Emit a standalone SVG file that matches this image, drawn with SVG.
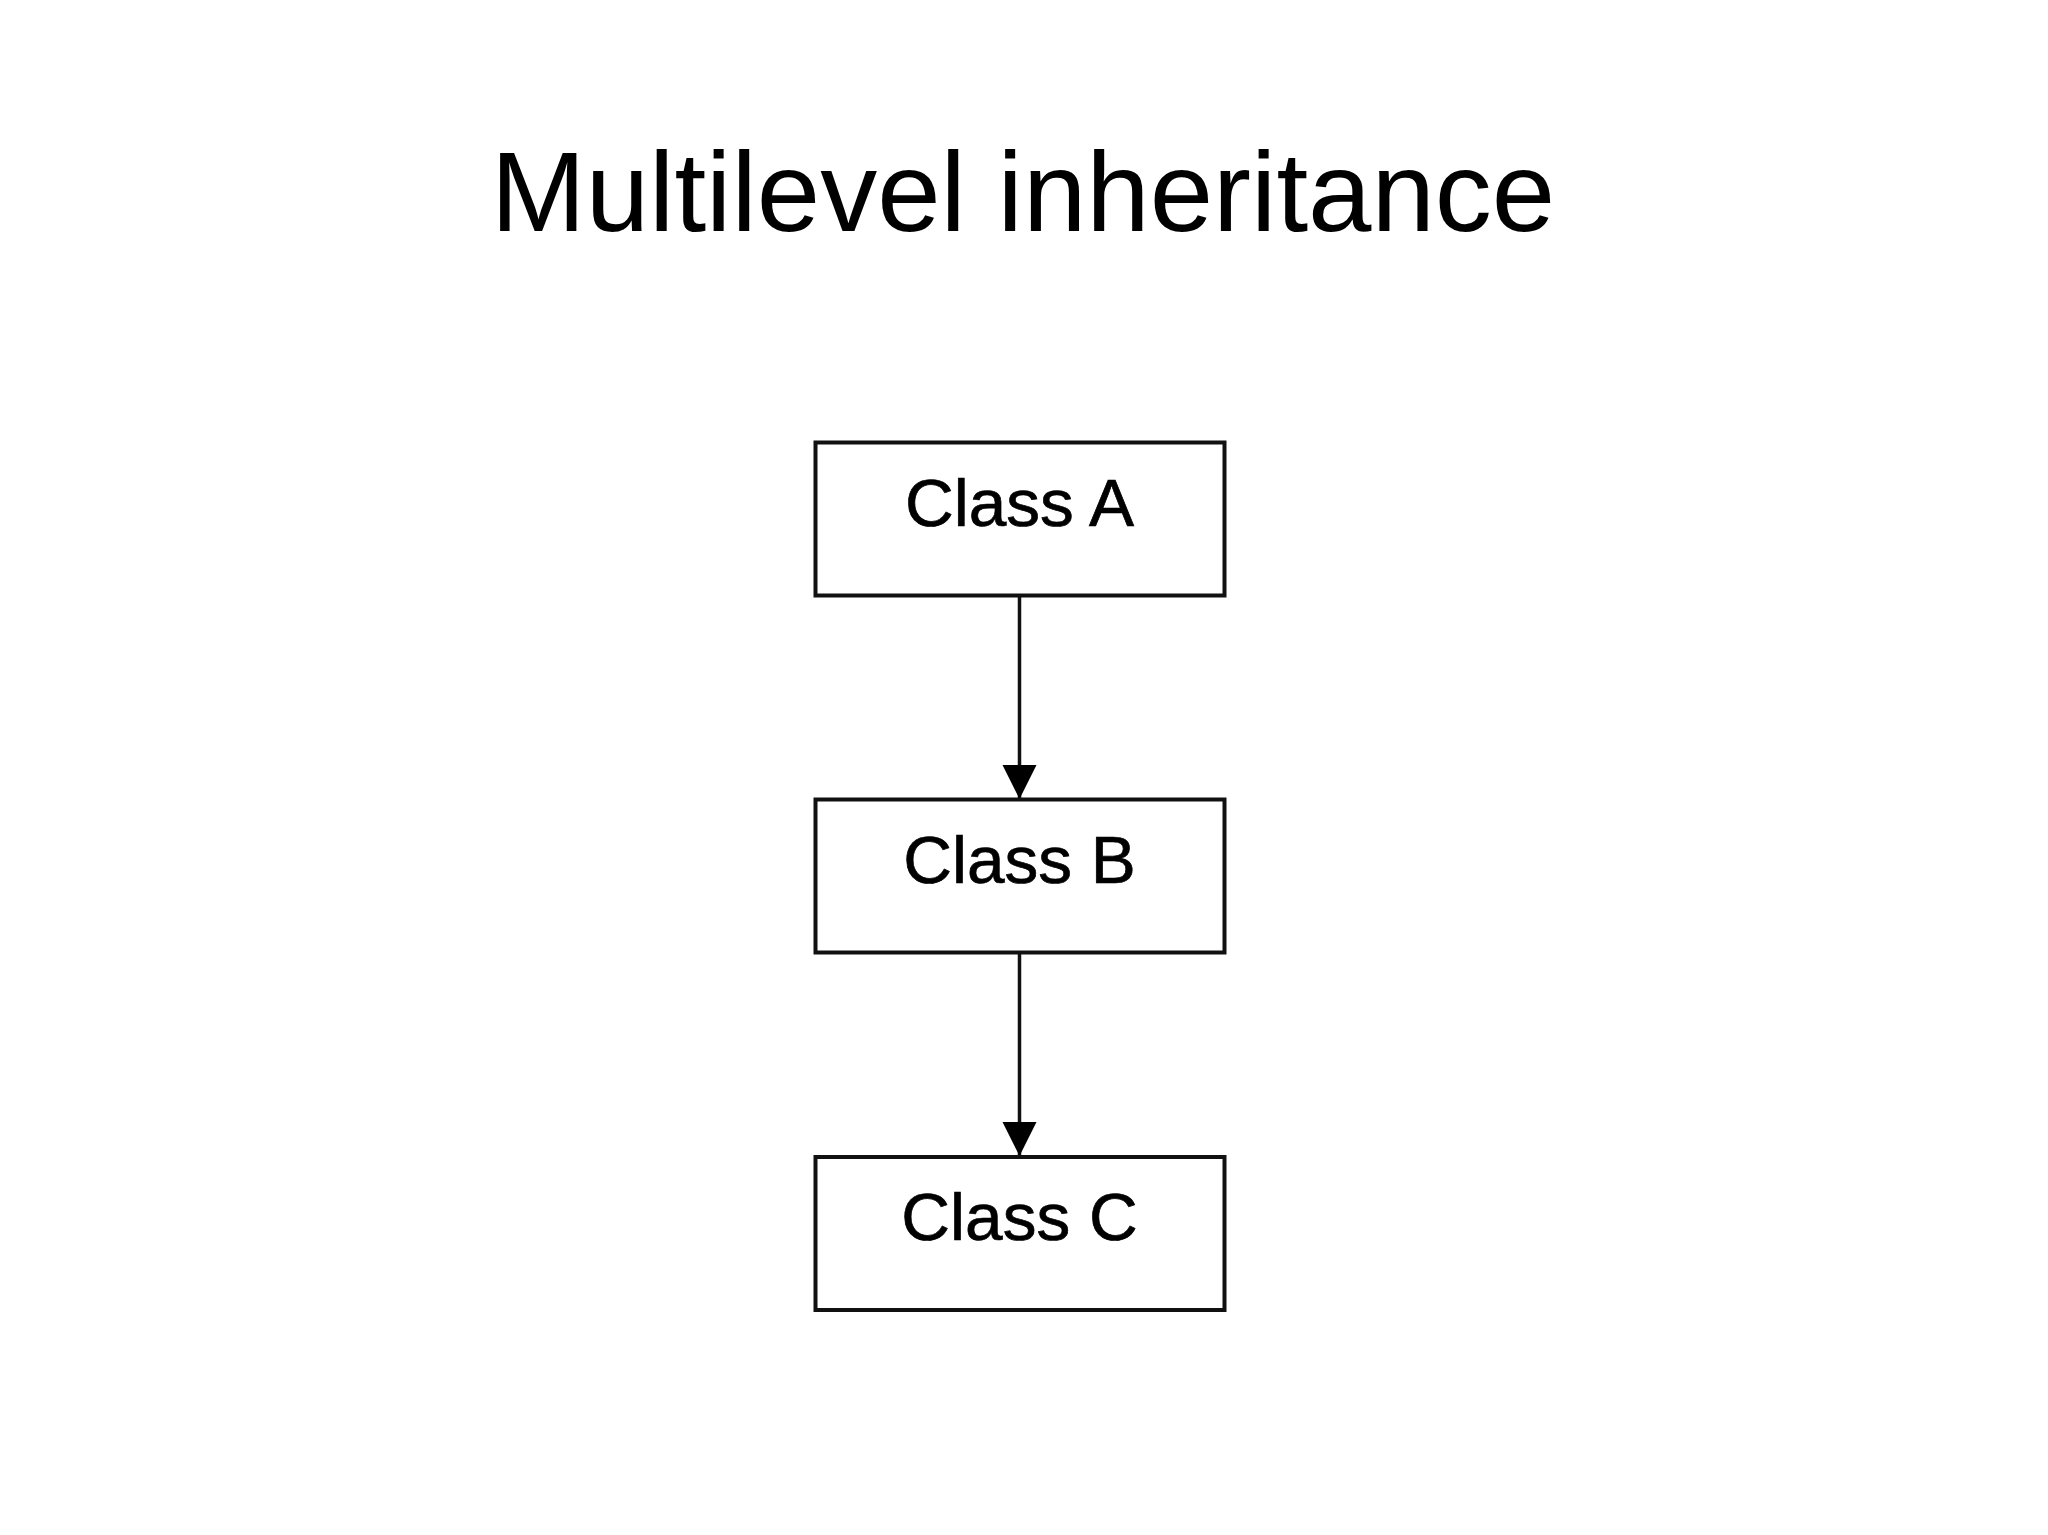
<svg xmlns="http://www.w3.org/2000/svg" width="2048" height="1535" viewBox="0 0 2048 1535">
<style>
.box{fill:#fff;stroke:#111;stroke-width:4}
.lbl{font-family:"Liberation Sans",Arial,sans-serif;font-size:67.5px;fill:#000;stroke:#000;stroke-width:0.7;text-anchor:middle}
.title{font-family:"Liberation Sans",Arial,sans-serif;font-size:114px;fill:#000;text-anchor:middle}
.edge{stroke:#111;stroke-width:3.5;fill:none}
</style>
<defs>
<marker id="arr" markerUnits="userSpaceOnUse" markerWidth="36" markerHeight="36" refX="34" refY="18" orient="auto" viewBox="0 0 36 36">
<path d="M0,1 L34,18 L0,35 Z" fill="#000"/>
</marker>
</defs>
<rect width="2048" height="1535" fill="#fff"/>
<text class="title" x="1023" y="231">Multilevel inheritance</text>
<g id="connectors">
<line class="edge" x1="1019.5" y1="597" x2="1019.5" y2="799" marker-end="url(#arr)"/>
<line class="edge" x1="1019.5" y1="954" x2="1019.5" y2="1156" marker-end="url(#arr)"/>
</g>
<g id="classA">
<rect class="box" x="815.5" y="442.5" width="409" height="153"/>
<text class="lbl" x="1019.5" y="526">Class A</text>
</g>
<g id="classB">
<rect class="box" x="815.5" y="799.5" width="409" height="153"/>
<text class="lbl" x="1019.5" y="883">Class B</text>
</g>
<g id="classC">
<rect class="box" x="815.5" y="1157" width="409" height="153"/>
<text class="lbl" x="1019.5" y="1240">Class C</text>
</g>
</svg>
